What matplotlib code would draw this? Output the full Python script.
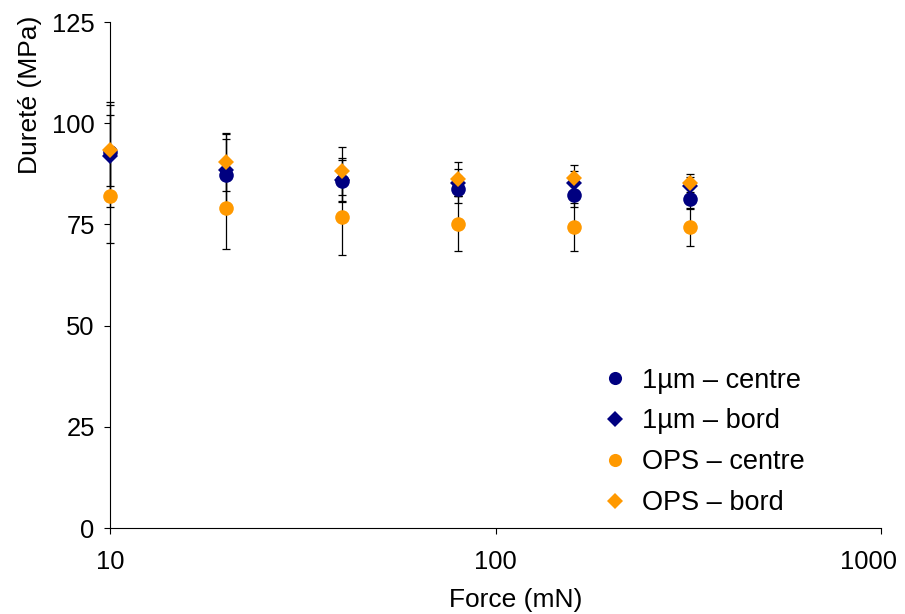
import matplotlib
matplotlib.use("Agg")
import matplotlib.pyplot as plt
import matplotlib.transforms as mtransforms
from matplotlib.lines import Line2D

plt.rcParams['font.family'] = ['Liberation Sans', 'DejaVu Sans']

force = [10, 20, 40, 80, 160, 320]

um_centre = [93.0, 87.3, 85.8, 83.7, 82.3, 81.3]
um_centre_err = [12.2, 8.8, 5.0, 3.3, 2.9, 2.6]
um_bord = [91.8, 88.5, 86.0, 85.3, 85.2, 84.5]
um_bord_err = [12.6, 9.0, 5.5, 3.4, 3.0, 2.3]
ops_centre = [82.0, 79.0, 76.8, 75.2, 74.4, 74.4]
ops_centre_err = [11.5, 10.0, 9.3, 6.8, 6.0, 4.7]
ops_bord = [93.3, 90.3, 88.2, 86.3, 86.4, 85.2]
ops_bord_err = [8.8, 7.0, 6.0, 4.2, 3.3, 2.3]

labels = ['1µm – centre', '1µm – bord', 'OPS – centre', 'OPS – bord']
x_ticks = [10, 100, 1000]
x_ticklabels = ['10', '100', '1000']
y_ticks = [0, 25, 50, 75, 100, 125]
navy = '#000080'
orange = '#FF9900'

fig = plt.figure(figsize=(9.05, 6.14), dpi=100)
ax = fig.add_axes([110/905, 1-528/614, 771/905, 506/614])

series = [
    (um_centre, um_centre_err, 'o', navy, 10.5),
    (um_bord, um_bord_err, 'D', navy, 8.5),
    (ops_centre, ops_centre_err, 'o', orange, 10.5),
    (ops_bord, ops_bord_err, 'D', orange, 8.5),
]

for vals, errs, m, c, ms in series:
    eb = ax.errorbar(force, vals, yerr=errs, fmt='none', ecolor='black',
                     elinewidth=0.9, capsize=3.2, capthick=0.9, zorder=2)
    for art in eb.lines[1]:
        art.set_clip_on(False)
    for art in eb.lines[2]:
        art.set_clip_on(False)
handles = []
for (vals, errs, m, c, ms), lab in zip(series, labels):
    ax.plot(force, vals, linestyle='none', marker=m, color=c,
            markersize=ms, markeredgewidth=0, zorder=3, clip_on=False)
    handles.append(Line2D([], [], linestyle='none', marker=m, color=c,
                          markersize=ms * 0.9, markeredgewidth=0, label=lab))

ax.set_xscale('log')
ax.set_xlim(10, 1000)
ax.set_ylim(0, 125)
ax.set_yticks(y_ticks)
ax.set_xticks(x_ticks)
ax.set_xticklabels(x_ticklabels)
ax.xaxis.set_minor_locator(matplotlib.ticker.NullLocator())
ax.tick_params(axis='both', which='major', labelsize=18.4, direction='out',
               length=4, width=0.8, colors='black')
ax.tick_params(axis='x', pad=12)
ax.tick_params(axis='y', pad=7)

# shift the last x tick label left so it stays inside the figure
last = ax.get_xticklabels()[-1]
last.set_transform(last.get_transform() +
                   mtransforms.ScaledTranslation(-13/100, 0, fig.dpi_scale_trans))

for s in ['top', 'right']:
    ax.spines[s].set_visible(False)
for s in ['left', 'bottom']:
    ax.spines[s].set_linewidth(0.8)
    ax.spines[s].set_color('black')
    ax.spines[s].set_zorder(1)

ax.set_xlabel('Force (mN)', fontsize=19)
ax.set_ylabel('Dureté (MPa)', fontsize=19)
ax.xaxis.set_label_coords(0.526, -0.119)
ax.yaxis.set_label_coords(-0.088, 0.856)

leg = ax.legend(handles=handles, loc='upper left', bbox_to_anchor=(0.641, 0.317),
                frameon=False, fontsize=19.5, handlelength=0.8, handletextpad=0.6,
                labelspacing=0.55, borderaxespad=0, borderpad=0)

fig.savefig('out.png', dpi=100)
